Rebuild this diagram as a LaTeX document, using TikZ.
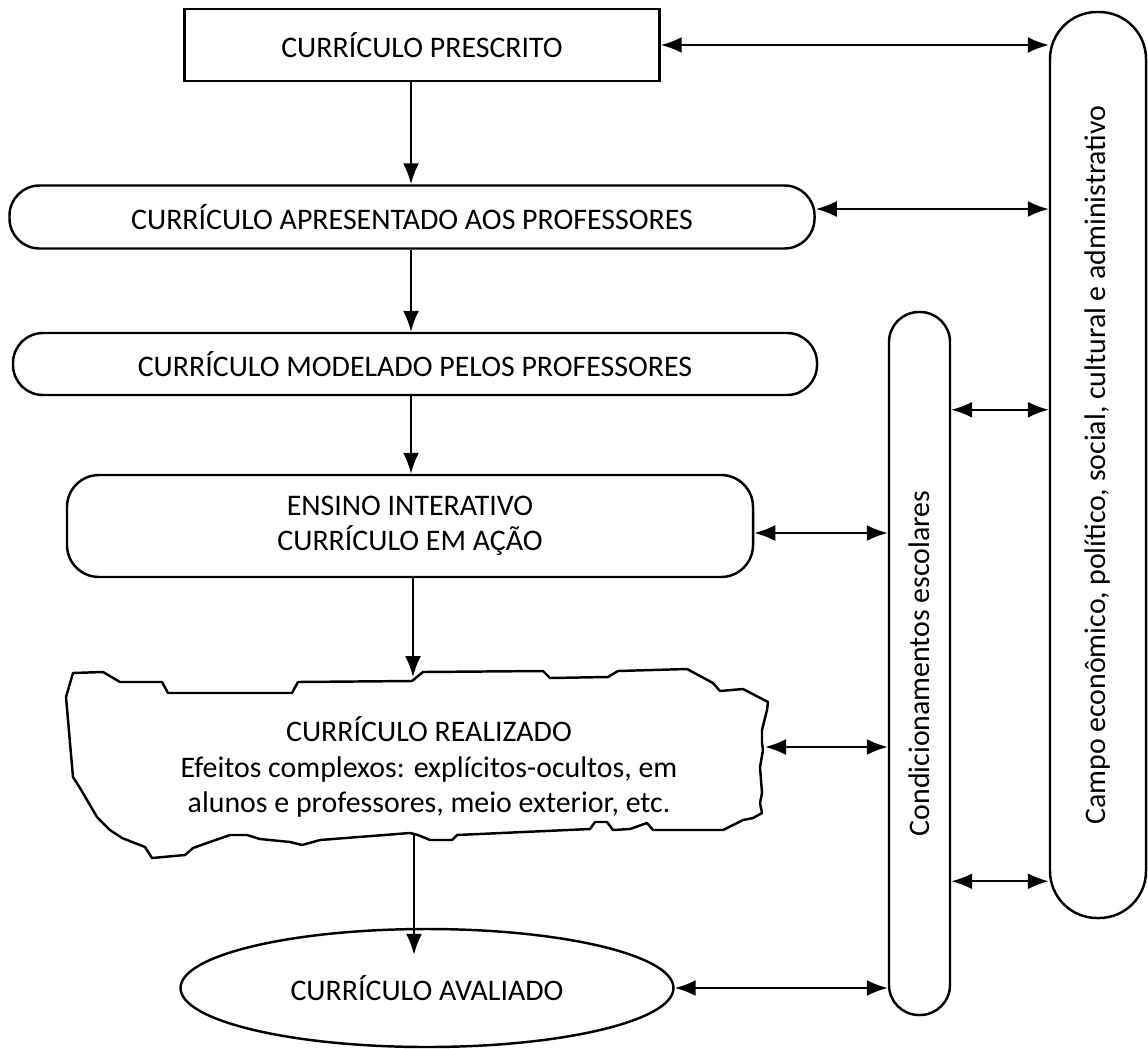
\documentclass[tikz,border=0pt]{standalone}
\usepackage{fontspec}
\setmainfont{Carlito}
\usepackage{graphicx}
\usetikzlibrary{arrows.meta,calc,shapes.geometric}

\begin{document}
\begin{tikzpicture}[
  x=0.2mm, y=-0.2mm,
  font=\fontsize{17}{20}\selectfont,
  box/.style={draw, line width=1.4pt, align=center, inner sep=0pt},
  pill/.style={box, rounded corners=#1},
  pill/.default=6mm,
  flow/.style={->, line width=1.2pt},
  link/.style={<->, line width=1.2pt},
  >={Latex[length=4.2mm, width=3.2mm]}
]
  \useasboundingbox (0,0) rectangle (1148,1048);
  \coordinate (spine) at (411,0);

  \node[box, minimum width=95mm, minimum height=14.4mm] (prescrito) at (422,45) {CURRÍCULO PRESCRITO};
  \node[pill, minimum width=161mm, minimum height=12.6mm] (apresentado) at (412,217) {CURRÍCULO APRESENTADO AOS PROFESSORES};
  \node[pill, minimum width=160.8mm, minimum height=12.4mm] (modelado) at (415,364) {CURRÍCULO MODELADO PELOS PROFESSORES};
  \node[pill=6.4mm, minimum width=137.2mm, minimum height=20.4mm] (ensino) at (410,526) {ENSINO INTERATIVO\\CURRÍCULO EM AÇÃO};
  \node[align=center] (realizado) at (429,767) {CURRÍCULO REALIZADO\\Efeitos complexos: explícitos-ocultos, em\\alunos e professores, meio exterior, etc.};
  \node[box, ellipse, minimum width=98.6mm, minimum height=23.6mm] (avaliado) at (427,988) {CURRÍCULO AVALIADO};
  \node[pill=6mm, minimum width=12.2mm, minimum height=140.6mm] (condic) at (919.5,663.5) {\rotatebox{90}{Condicionamentos escolares}};
  \node[pill=9.4mm, minimum width=19.2mm, minimum height=181.2mm] (campo) at (1098,465) {\rotatebox{90}{Campo econômico, político, social, cultural e administrativo}};

  \draw[line width=1.4pt, line join=round] (73,673) -- (103,672) -- (120,682) -- (162,682) -- (168,693) -- (292,693) -- (298,682) -- (412,681) -- (423,672)
    -- (543,671) -- (550,678) -- (608,677) -- (618,671) -- (687,669) -- (713,683) -- (720,691) -- (743,689) -- (768,702)
    -- (767,710) -- (762,730) -- (762,743) -- (763,750) -- (760,767) -- (762,793) -- (760,803) -- (762,813) -- (753,818) -- (743,820) -- (723,830)
    -- (653,830) -- (647,823) -- (630,829) -- (613,830) -- (607,822) -- (595,822) -- (590,829) -- (457,835) -- (452,840) -- (430,840) -- (418,835)
    -- (410,833) -- (320,840) -- (302,845) -- (290,842) -- (260,839) -- (247,835) -- (230,835) -- (207,843) -- (193,848) -- (185,855) -- (152,858)
    -- (145,847) -- (122,838) -- (110,830) -- (97,817) -- (80,788) -- (73,777) -- (66,697) -- cycle;
  \coordinate (rz-top) at (413,677);
  \coordinate (rz-bot) at (414,834);
  \coordinate (rz-right) at (765,747);

  \coordinate (ap-r) at ($(apresentado.east)+(0,-8)$);
  \coordinate (en-r) at ($(ensino.east)+(0,7)$);
  \coordinate (co-hi) at ($(condic.north east)+(0,99)$);
  \coordinate (co-lo) at ($(campo.south west)+(0,-38)$);

  \draw[flow] (prescrito.south -| spine) -- (apresentado.north -| spine);
  \draw[flow] (apresentado.south -| spine) -- (modelado.north -| spine);
  \draw[flow] (modelado.south -| spine) -- (ensino.north -| spine);
  \draw[flow] (ensino.south -| rz-top) -- (rz-top);
  \draw[flow] (rz-bot) -- ($(avaliado.north -| rz-bot)+(0,27)$);

  \draw[link] (prescrito.east) -- (prescrito.east -| campo.west);
  \draw[link] (ap-r) -- (ap-r -| campo.west);
  \draw[link] (co-hi) -- (co-hi -| campo.west);
  \draw[link] (en-r) -- (en-r -| condic.west);
  \draw[link] (rz-right) -- (rz-right -| condic.west);
  \draw[link] (co-lo -| condic.east) -- (co-lo);
  \draw[link] (avaliado.east) -- (avaliado.east -| condic.west);
\end{tikzpicture}
\end{document}
